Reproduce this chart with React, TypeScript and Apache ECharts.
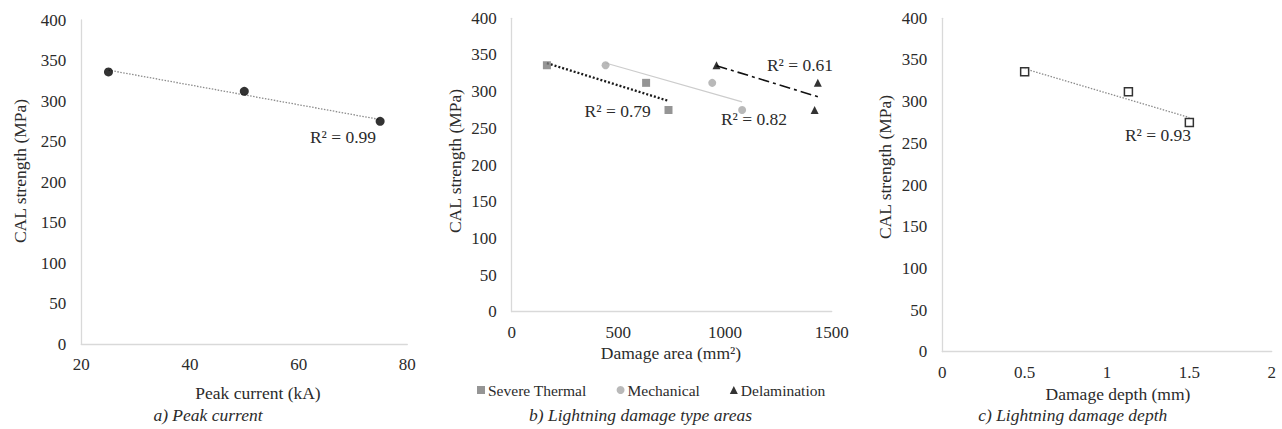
import React, { useEffect, useRef } from "react";
import * as echarts from "echarts";

// ---- data ----
const strength = [336, 312, 275];
const peakCurrent = [25, 50, 75];
const thermalArea = [165, 630, 735];
const mechanicalArea = [440, 940, 1080];
const delaminationArea = [960, 1435, 1420];
const damageDepth = [0.5, 1.13, 1.5];

const yTicks = { min: 0, max: 400, interval: 50 };
const xTicksA = { min: 20, max: 80, interval: 20 };
const xTicksB = { min: 0, max: 1500, interval: 500 };
const xTicksC = { min: 0, max: 2, interval: 0.5 };

const r2Labels = ["R² = 0.99", "R² = 0.79", "R² = 0.82", "R² = 0.61", "R² = 0.93"];

const FONT = '"Liberation Serif", "Times New Roman", serif';
const TXT = "#2b2b2b";
const AXIS = "#d9d9d9";

function trend(xs: number[], ys: number[]) {
  const n = xs.length;
  const mx = xs.reduce((a, b) => a + b, 0) / n;
  const my = ys.reduce((a, b) => a + b, 0) / n;
  let sxy = 0, sxx = 0;
  for (let i = 0; i < n; i++) {
    sxy += (xs[i] - mx) * (ys[i] - my);
    sxx += (xs[i] - mx) ** 2;
  }
  const b = sxy / sxx;
  const a = my - b * mx;
  const x0 = Math.min(...xs), x1 = Math.max(...xs);
  return [[x0, a + b * x0], [x1, a + b * x1]];
}

const pts = (xs: number[], ys: number[]) => xs.map((x, i) => [x, ys[i]]);

function xAxis(gi: number, t: any) {
  return {
    type: "value", gridIndex: gi, min: t.min, max: t.max, interval: t.interval,
    splitLine: { show: false }, axisTick: { show: false },
    axisLine: { show: true, onZero: false, lineStyle: { color: AXIS, width: 1.3 } },
    axisLabel: {
      color: TXT, fontFamily: FONT, fontSize: 17, margin: 12, showMinLabel: true, showMaxLabel: true,
      formatter: (v: number) => String(v),
    },
  };
}
function yAxis(gi: number) {
  return {
    type: "value", gridIndex: gi, min: yTicks.min, max: yTicks.max, interval: yTicks.interval,
    splitLine: { show: false }, axisTick: { show: false },
    axisLine: { show: true, onZero: false, lineStyle: { color: AXIS, width: 1.3 } },
    axisLabel: { color: TXT, fontFamily: FONT, fontSize: 17, margin: 15, formatter: (v: number) => String(v) },
  };
}

function txt(x: number, y: number, text: string, opts: any = {}) {
  return {
    type: "text", x, y, rotation: opts.rotation || 0, silent: true,
    style: {
      text, fill: TXT, fontFamily: FONT, fontSize: opts.size || 17.5,
      fontStyle: opts.italic ? "italic" : "normal",
      align: "center", verticalAlign: "middle",
    },
  };
}

export default function App() {
  const ref = useRef<HTMLDivElement>(null);
  useEffect(() => {
    const chart = echarts.init(ref.current!, null, { renderer: "svg" });
    const option: any = {
      animation: false,
      backgroundColor: "#ffffff",
      grid: [
        { left: 81.3, top: 20, width: 326, height: 324.3 },
        { left: 511.7, top: 18.3, width: 320, height: 293.4 },
        { left: 942.3, top: 18.3, width: 329.4, height: 333.4 },
      ],
      xAxis: [xAxis(0, xTicksA), xAxis(1, xTicksB), xAxis(2, xTicksC)],
      yAxis: [yAxis(0), yAxis(1), yAxis(2)],
      legend: {
        data: ["Severe Thermal", "Mechanical", "Delamination"],
        left: 472, top: 377, itemWidth: 8, itemHeight: 8, itemGap: 30,
        textStyle: { color: TXT, fontFamily: FONT, fontSize: 15.5, padding: [0, 0, 0, -2] },
      },
      series: [
        // panel a
        {
          type: "line", xAxisIndex: 0, yAxisIndex: 0, data: trend(peakCurrent, strength),
          symbol: "none", lineStyle: { color: "#8c8c8c", width: 1.3, type: [1.5, 1.5] }, z: 1,
        },
        {
          type: "scatter", xAxisIndex: 0, yAxisIndex: 0, data: pts(peakCurrent, strength),
          symbol: "circle", symbolSize: 9, itemStyle: { color: "#000000" }, z: 3,
        },
        // panel b
        {
          type: "line", xAxisIndex: 1, yAxisIndex: 1, data: trend(thermalArea, strength),
          symbol: "none", lineStyle: { color: "#1a1a1a", width: 2.3, type: [2, 2] }, z: 1,
        },
        {
          type: "line", xAxisIndex: 1, yAxisIndex: 1, data: trend(mechanicalArea, strength),
          symbol: "none", lineStyle: { color: "#cccccc", width: 1.2, type: "solid" }, z: 1,
        },
        {
          type: "line", xAxisIndex: 1, yAxisIndex: 1, data: trend(delaminationArea, strength),
          symbol: "none", lineStyle: { color: "#111111", width: 1.6, type: [11, 4, 3, 4] }, z: 1,
        },
        {
          name: "Severe Thermal", type: "scatter", xAxisIndex: 1, yAxisIndex: 1,
          data: pts(thermalArea, strength), symbol: "rect", symbolSize: 8,
          itemStyle: { color: "#7a7a7a" }, z: 3,
        },
        {
          name: "Mechanical", type: "scatter", xAxisIndex: 1, yAxisIndex: 1,
          data: pts(mechanicalArea, strength), symbol: "circle", symbolSize: 8,
          itemStyle: { color: "#a8a8a8" }, z: 3,
        },
        {
          name: "Delamination", type: "scatter", xAxisIndex: 1, yAxisIndex: 1,
          data: pts(delaminationArea, strength), symbol: "triangle", symbolSize: 8,
          itemStyle: { color: "#000000" }, z: 3,
        },
        // panel c
        {
          type: "line", xAxisIndex: 2, yAxisIndex: 2, data: trend(damageDepth, strength),
          symbol: "none", lineStyle: { color: "#8c8c8c", width: 1.3, type: [1.5, 1.5] }, z: 1,
        },
        {
          type: "scatter", xAxisIndex: 2, yAxisIndex: 2, data: pts(damageDepth, strength),
          symbol: "rect", symbolSize: 8,
          itemStyle: { color: "#ffffff", borderColor: "#000000", borderWidth: 1.5 }, z: 3,
        },
      ],
      graphic: [
        // axis titles
        txt(258, 393, "Peak current (kA)"),
        txt(671, 353, "Damage area (mm²)"),
        txt(1118, 394, "Damage depth (mm)"),
        txt(20, 171, "CAL strength (MPa)", { rotation: Math.PI / 2 }),
        txt(455, 161, "CAL strength (MPa)", { rotation: Math.PI / 2 }),
        txt(885, 167, "CAL strength (MPa)", { rotation: Math.PI / 2 }),
        // captions
        txt(208, 415, "a) Peak current", { italic: true, size: 17.5 }),
        txt(640.5, 415, "b) Lightning damage type areas", { italic: true, size: 17.5 }),
        txt(1072.7, 415, "c) Lightning damage depth", { italic: true, size: 17.5 }),
        // R² labels
        txt(343, 137, r2Labels[0], { size: 17.5 }),
        txt(617.7, 110.7, r2Labels[1], { size: 17.5 }),
        txt(754, 119.3, r2Labels[2], { size: 17.5 }),
        txt(800, 65, r2Labels[3], { size: 17.5 }),
        txt(1158, 135, r2Labels[4], { size: 17.5 }),
      ],
    };
    chart.setOption(option);
    return () => chart.dispose();
  }, []);
  return (
    <div
      ref={ref}
      style={{ position: "fixed", left: 0, top: 0, width: 1282, height: 429, background: "#fff" }}
    />
  );
}
